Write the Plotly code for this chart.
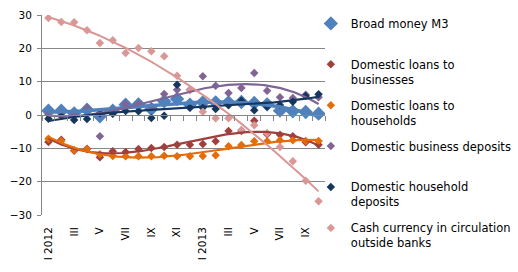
import numpy as np
import plotly.graph_objects as go

months = ["I 2012", "II", "III", "IV", "V", "VI", "VII", "VIII", "IX", "X", "XI", "XII",
          "I 2013", "II", "III", "IV", "V", "VI", "VII", "VIII", "IX", "X"]
tick_labels = ["I 2012", "III", "V", "VII", "IX", "XI", "I 2013", "III", "V", "VII", "IX"]

broad_money = [1.3, 1.3, 0.5, 1.6, -0.4, 1.3, 3.1, 3.2, 1.8, 4.1, 4.8, 3.1,
               3.8, 3.8, 3.8, 3.9, 3.6, 3.2, 1.3, 1.1, 0.9, 0.4]
loans_business = [-8.1, -7.4, -10.7, -10.1, -12.7, -10.9, -11.1, -10.2, -9.9, -9.6, -8.9, -8.9,
                  -8.7, -7.9, -4.8, -4.8, -1.7, -5.8, -5.9, -6.4, -8.2, -8.9]
loans_households = [-7.1, -7.8, -10.6, -10.3, -11.8, -12.3, -12.4, -12.4, -12.4, -12.2, -12.4, -12.4,
                    -12.3, -12.1, -9.4, -9.0, -7.9, -7.9, -7.6, -7.6, -7.8, -7.8]
business_deposits = [0.1, 0.5, 0.3, 2.1, -6.4, 1.5, 3.3, 3.3, 2.5, 6.3, 7.6, 7.6,
                     11.6, 8.8, 6.6, 8.1, 12.6, 7.3, 5.3, 5.1, 6.1, 5.3]
household_deposits = [-1.1, -0.3, -1.5, -1.2, 0.5, 0.4, 1.2, 1.1, -0.9, -0.2, 9.1, 2.2,
                      2.2, 1.8, 3.0, 4.3, 1.4, 2.5, 3.0, 4.0, 5.7, 6.2]
cash = [29.1, 27.9, 27.8, 25.4, 21.6, 22.4, 18.6, 20.1, 19.1, 17.6, 11.8, 7.5,
        1.0, -1.0, -1.0, -4.5, -3.1, -5.5, -9.6, -13.9, -19.7, -25.9]

series = [
    ("Broad money M3<br> ", broad_money, "#4F81BD", 11, 3.5),
    ("Domestic loans to<br>businesses", loans_business, "#A0403E", 6.5, 2.2),
    ("Domestic loans to<br>households", loans_households, "#E46C0A", 6.5, 2.2),
    ("Domestic business deposits<br> ", business_deposits, "#7F6495", 6.5, 2.2),
    ("Domestic household<br>deposits", household_deposits, "#17365D", 6.5, 2.2),
    ("Cash currency in circulation<br>outside banks", cash, "#D99795", 6.5, 2.0),
]

x = np.arange(len(months))
xf = np.linspace(0, len(months) - 1, 200)

fig = go.Figure()
for i, (name, vals, col, msize, lw) in enumerate(series):
    fig.add_trace(go.Scatter(
        x=x, y=vals, mode="markers", name=name, legendgroup=f"g{i}",
        marker=dict(symbol="diamond", size=msize, color=col, line=dict(width=0)),
        showlegend=True))
for i, (name, vals, col, msize, lw) in enumerate(series):
    coef = np.polyfit(x, vals, 3)
    fig.add_trace(go.Scatter(
        x=xf, y=np.polyval(coef, xf), mode="lines", line=dict(color=col, width=lw),
        showlegend=False, hoverinfo="skip", legendgroup=f"g{i}"))

# axis line through zero with category tick marks
fig.add_trace(go.Scatter(x=[], y=[], xaxis="x2", showlegend=False))

fig.update_layout(
    width=518, height=272,
    margin=dict(l=42, r=193, t=15, b=57, autoexpand=False),
    paper_bgcolor="white", plot_bgcolor="white",
    font=dict(family="DejaVu Sans", size=10.5, color="#000000"),
    xaxis=dict(range=[-0.5, len(months) - 0.5], tickmode="array",
               tickvals=x[::2], ticktext=tick_labels, tickangle=-90,
               showgrid=False, zeroline=False, showline=False,
               ticks="outside", ticklen=7, tickcolor="rgba(0,0,0,0)",
               tickfont=dict(size=10.5)),
    xaxis2=dict(range=[-0.5, len(months) - 0.5], overlaying="x", anchor="free",
                position=0.5, showline=True, linecolor="#868686", linewidth=1,
                ticks="outside", ticklen=5, tickcolor="#868686",
                tickmode="array", tickvals=list(np.arange(len(months) + 1) - 0.5),
                showticklabels=False, showgrid=False, zeroline=False),
    yaxis=dict(range=[-30, 30], dtick=10, tick0=0, showgrid=True, gridcolor="#868686",
               gridwidth=1, zeroline=False, showline=True, linecolor="#868686",
               ticks="outside", ticklen=4, tickcolor="#868686", tickfont=dict(size=10.5),
               ticklabelstandoff=3),
    legend=dict(x=0.95, y=1.028, xanchor="left", yanchor="top",
                font=dict(size=11.5), traceorder="grouped", tracegroupgap=8,
                valign="top", bgcolor="rgba(0,0,0,0)", itemwidth=30, maxheight=270),
)

fig.write_html("out.html")
